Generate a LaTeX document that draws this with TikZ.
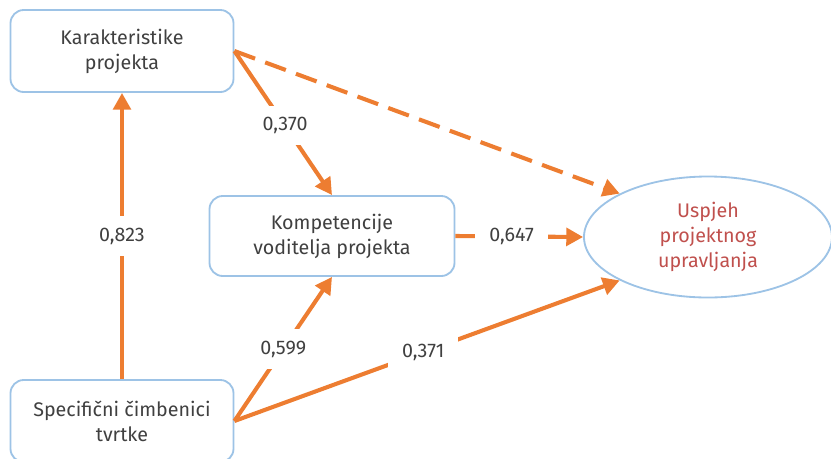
\documentclass[tikz,border=0pt]{standalone}
\usepackage{fontspec}
\setmainfont{Fira Sans}
\usetikzlibrary{arrows.meta,shapes.geometric}
\definecolor{pmorange}{RGB}{237,125,49}
\definecolor{pmblue}{RGB}{157,195,230}
\definecolor{pmgray}{RGB}{64,64,64}
\definecolor{pmred}{RGB}{192,80,77}

\begin{document}
\begin{tikzpicture}[
    >={Triangle[length=0.42cm,width=0.44cm]},
    box/.style={
        draw=pmblue,
        line width=1.3pt,
        rounded corners=0.33cm,
        fill=white,
        minimum width=5.575cm,
        minimum height=2.05cm,
        align=center,
        text=pmgray,
        font=\fontsize{14}{17.8}\selectfont
    },
    goal/.style={
        ellipse,
        draw=pmblue,
        line width=1.3pt,
        fill=white,
        minimum width=6.2cm,
        minimum height=3.025cm,
        align=center,
        text=pmred,
        font=\fontsize{14}{17.8}\selectfont
    },
    link/.style={->, line width=2.9pt, pmorange},
    coef/.style={fill=white, inner xsep=10pt, inner ysep=8pt, text=pmgray, font=\fontsize{14}{17}\selectfont}
]
\useasboundingbox (0,0) rectangle (20.775,-11.45);

% Boxes.
\node[box] (kar) at (3.05,-1.275) {Karakteristike\\projekta};
\node[box, minimum width=6.125cm, minimum height=2.0cm] (komp) at (8.3,-5.9) {Kompetencije\\voditelja projekta};
\node[box] (spec) at (3.05,-10.525) {Specifični čimbenici\\tvrtke};
\node[goal] (usp) at (17.7,-5.925) {Uspjeh\\projektnog\\upravljanja};

% Paths.
\draw[link] (spec.north) -- (kar.south) node[coef, midway] {0,823};
\draw[link] (kar.east) -- (komp.north) node[coef, pos=0.52] {0,370};
\draw[link, dash pattern=on 0.55cm off 0.27cm] (kar.east) -- (usp.north west);
\draw[link] (komp.east) -- (usp.west) node[coef, pos=0.44] {0,647};
\draw[link] (spec.east) -- (komp.south) node[coef, pos=0.5] {0,599};
\draw[link] (spec.east) -- (usp.south west) node[coef, pos=0.49] {0,371};

\end{tikzpicture}
\end{document}
